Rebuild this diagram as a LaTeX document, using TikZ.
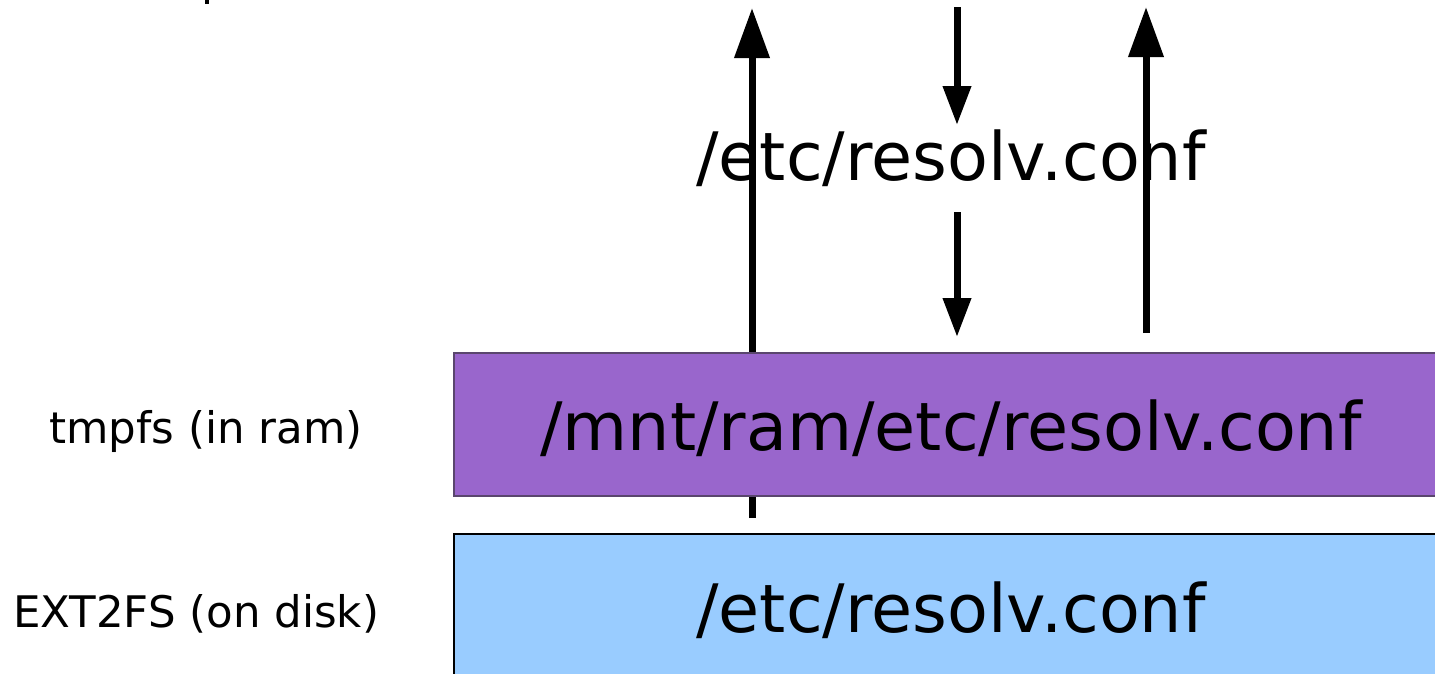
\documentclass[tikz,border=0pt]{standalone}
\usepackage{fontspec}
\setmainfont{DejaVu Sans}
\usetikzlibrary{arrows.meta}
\definecolor{ramfill}{RGB}{153,102,204}
\definecolor{ramline}{RGB}{90,70,110}
\definecolor{diskfill}{RGB}{153,204,255}
\tikzset{
  x=1pt, y=-1pt,
  layer/.style={draw, line width=1.5pt, anchor=north west, inner sep=0pt,
    minimum width=1000pt},
  biglbl/.style={font=\fontsize{66.8}{80}\selectfont, inner sep=0pt},
  sidelbl/.style={font=\fontsize{43.5}{52}\selectfont, inner sep=0pt},
  wide/.style={line width=7pt, -{Triangle[length=50pt, width=34pt]}},
  narrow/.style={line width=7pt, -{Triangle[length=39pt, width=27pt]}}
}
\begin{document}
\begin{tikzpicture}
\useasboundingbox (0,0) rectangle (1435,673);
\clip (0,0) rectangle (1435,673);

% end points of the flows
\coordinate (upLfoot) at (752,518);
\coordinate (upLtip) at (752,8);
\coordinate (upRfoot) at (1146,333);
\coordinate (upRtip) at (1146,7);
\coordinate (inTop) at (957,7);
\coordinate (inTopTip) at (957,125);
\coordinate (inLow) at (957,212);
\coordinate (inLowTip) at (957,337);

% stem of a label cut off at the top edge
\fill (205,0) rectangle (209,4);

% the path seen by processes
\node[biglbl] (view) at (951,158) {/etc/resolv.conf};

% left read path, passing behind the ram layer
\draw[wide] (upLfoot) -- (upLtip);

% layers
\node[layer, draw=ramline, fill=ramfill, minimum height=143pt] (ram) at (453,352) {};
\node[biglbl] (ramtxt) at (951,428) {/mnt/ram/etc/resolv.conf};
\node[layer, draw=black, fill=diskfill, minimum height=160pt] (disk) at (453,533) {};
\node[biglbl] (disktxt) at (951,610) {/etc/resolv.conf};

% layer names
\node[sidelbl] (ramname) at (206,431) {tmpfs (in ram)};
\node[sidelbl] (diskname) at (196,614) {EXT2FS (on disk)};

% other flows
\draw[narrow] (inTop) -- (inTopTip);
\draw[narrow] (inLow) -- (inLowTip);
\draw[wide] (upRfoot) -- (upRtip);
\end{tikzpicture}
\end{document}
